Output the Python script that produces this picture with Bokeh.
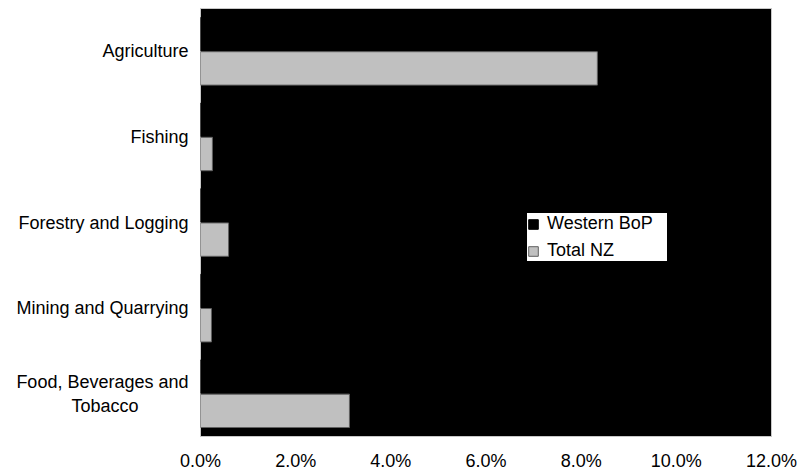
from bokeh.plotting import figure
from bokeh.models import (ColumnDataSource, FactorRange, Range1d, NumeralTickFormatter,
                          FixedTicker, Legend, LegendItem)
from bokeh.transform import dodge
from bokeh.embed import file_html
from bokeh.resources import INLINE

NBSP = "\u00a0"
categories = ["Agriculture", "Fishing", "Forestry and Logging",
              "Mining and Quarrying", "Food, Beverages and\nTobacco" + NBSP * 10]
western_bop = [0.095, 0.003, 0.016, 0.002, 0.036]
total_nz = [0.0834, 0.0025, 0.0059, 0.0023, 0.0313]
x_ticks = [0.0, 0.02, 0.04, 0.06, 0.08, 0.10, 0.12]

source = ColumnDataSource(dict(cat=categories, wbop=western_bop, nz=total_nz))

FONT = "Liberation Sans"
FS = "18px"

p = figure(width=800, height=476, output_backend="svg", toolbar_location=None,
           y_range=FactorRange(factors=categories[::-1], range_padding=0),
           x_range=Range1d(0, 0.12),
           min_border_left=200, min_border_right=29, min_border_top=8, min_border_bottom=40)

p.background_fill_color = "black"
p.border_fill_color = "white"
p.outline_line_color = "#c8c8c8"
p.grid.visible = False

r1 = p.hbar(y=dodge("cat", 0.2, range=p.y_range), right="wbop", left=0, height=0.39,
            source=source, fill_color="black", line_color="black")
r2 = p.hbar(y=dodge("cat", -0.2, range=p.y_range), right="nz", left=0, height=0.39,
            source=source, fill_color="#c0c0c0", line_color="#606060", line_width=1)

p.xaxis.ticker = FixedTicker(ticks=x_ticks)
p.xaxis.formatter = NumeralTickFormatter(format="0.0%")
p.xaxis.axis_line_color = None
p.xaxis.major_tick_line_color = None
p.xaxis.minor_tick_line_color = None
p.xaxis.major_tick_out = 0
p.xaxis.major_label_standoff = 14
p.xaxis.major_label_text_font = FONT
p.xaxis.major_label_text_font_size = FS
p.xaxis.major_label_text_color = "black"

p.yaxis.axis_line_color = None
p.yaxis.major_tick_line_color = None
p.yaxis.minor_tick_line_color = None
p.yaxis.major_tick_out = 0
p.yaxis.major_label_standoff = 12
p.yaxis.major_label_text_font = FONT
p.yaxis.major_label_text_font_size = FS
p.yaxis.major_label_text_color = "black"

legend = Legend(items=[LegendItem(label="Western BoP", renderers=[r1]),
                       LegendItem(label="Total NZ", renderers=[r2])],
                location=(327, 175))
legend.label_text_font = FONT
legend.label_text_font_size = FS
legend.label_text_color = "black"
legend.label_height = 20
legend.label_width = 120
legend.glyph_width = 12
legend.glyph_height = 12
legend.label_standoff = 8
legend.spacing = 6
legend.padding = 5
legend.margin = 0
legend.background_fill_color = "white"
legend.background_fill_alpha = 1
legend.border_line_color = None
p.add_layout(legend)

open("out.html", "w").write(file_html(p, INLINE))
